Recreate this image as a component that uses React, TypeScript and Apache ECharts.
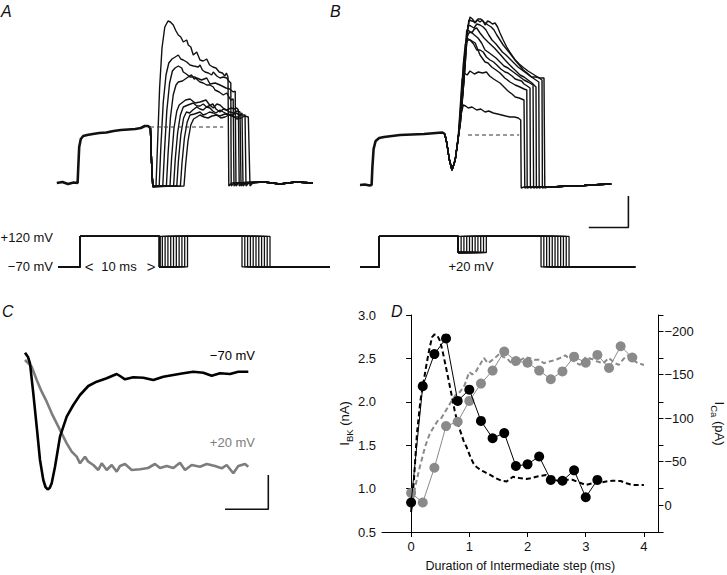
import React, { useEffect, useRef } from "react";
import * as echarts from "echarts";

const FONT = "'Liberation Sans', Arial, Helvetica, sans-serif";
const GRAY = "#8a8a8a";

// ---------- Panel A : currents (time ms, current in 0.1-unit steps) ----------
const aPlateau: number[][] = [[7.1,0],[7.8,0.1],[8.5,-0.1],[9.2,0.05],[9.7,0],[9.78,1.5],[9.9,3.6],[10.1,4.4],[10.4,4.7],[10.9,4.8],[11.6,4.9],[12.4,5.0],[13.3,5.05],[14.2,5.2],[15.1,5.3],[16,5.35],[16.9,5.4],[17.6,5.5],[18.1,5.7],[18.5,5.7],[18.8,5.5]];
const aDrop: number[][] = [[18.8,5.5],[18.95,2.0],[19.1,-0.35]];
const aTails: number[][][] = [
  [[19.5,-0.3],[19.7,4.0],[19.95,9.5],[20.25,13.5],[20.6,15.6],[21.0,16.2],[21.3,16.1],[21.66,15.8],[22.0,15.2],[22.29,14.8],[22.6,14.6],[22.91,14.1],[23.34,14.3],[23.54,13.8],[23.85,13.6],[24.16,12.8],[24.59,13.1],[25.0,12.3],[25.4,12.2],[25.84,12.4],[26.2,11.8],[26.6,11.6],[27.0,11.5],[27.4,11.1],[27.8,11.0],[28.1,10.7],[28.3,11.0],[28.5,10.6],[28.6,-0.3],[28.95,0]],
  [[19.9,-0.3],[20.1,3.5],[20.4,8.0],[20.75,10.8],[21.1,12.0],[21.5,12.4],[21.9,12.6],[22.29,12.8],[22.6,12.4],[22.91,12.3],[23.34,12.1],[23.75,11.8],[24.2,11.7],[24.79,11.6],[25.0,11.8],[25.3,11.3],[25.63,11.1],[26.05,11.0],[26.46,10.8],[26.66,11.1],[27.1,10.7],[27.5,10.5],[27.9,10.6],[28.34,10.5],[28.6,10.2],[28.85,10.0],[28.9,-0.3],[29.25,0]],
  [[20.35,-0.3],[20.55,3.0],[20.85,7.2],[21.2,10.0],[21.55,11.2],[21.88,11.5],[22.3,11.7],[22.71,11.5],[22.91,11.1],[23.3,10.9],[23.75,10.6],[24.38,10.6],[24.7,10.3],[25.0,10.1],[25.4,10.0],[25.84,9.8],[26.25,9.8],[26.66,9.6],[26.88,9.3],[27.4,9.1],[27.91,8.8],[28.34,9.0],[28.84,8.3],[29.15,8.4],[29.25,-0.3],[29.6,0]],
  [[20.8,-0.3],[21.0,2.8],[21.3,6.5],[21.65,8.8],[22.0,9.8],[22.29,10.1],[22.8,10.2],[23.34,10.5],[23.7,10.7],[23.96,10.8],[24.25,10.4],[24.59,10.5],[25.2,10.3],[25.84,10.5],[26.25,9.9],[26.9,10.0],[27.5,9.8],[28.25,9.5],[28.7,9.4],[29.16,9.1],[29.4,9.2],[29.5,-0.3],[29.85,0]],
  [[21.25,-0.3],[21.45,2.5],[21.75,5.5],[22.1,7.2],[22.4,7.8],[22.71,8.0],[23.2,8.3],[23.75,8.4],[24.4,8.0],[25.0,8.1],[25.75,8.3],[26.2,7.8],[26.66,7.5],[27.1,7.9],[27.5,7.8],[27.9,7.5],[28.34,7.3],[28.9,7.5],[29.3,7.4],[29.59,7.5],[29.8,7.3],[29.9,-0.3],[30.25,0]],
  [[21.7,-0.3],[21.9,2.3],[22.2,5.0],[22.55,6.8],[22.91,7.6],[23.5,7.8],[24.16,8.0],[24.6,7.7],[25.0,7.7],[25.4,7.9],[25.84,7.6],[26.6,7.9],[27.0,7.4],[27.5,7.1],[27.9,7.4],[28.25,7.3],[28.7,7.1],[29.16,7.0],[29.6,7.2],[30.0,7.1],[30.13,-0.3],[30.5,0]],
  [[22.1,-0.3],[22.3,2.2],[22.6,4.8],[22.95,6.5],[23.3,7.1],[23.7,7.0],[24.1,7.3],[24.59,7.6],[25.0,7.4],[25.4,7.3],[25.8,7.6],[26.25,7.5],[26.6,7.2],[27.0,7.0],[27.5,7.3],[27.91,7.1],[28.4,6.9],[29.0,6.8],[29.5,7.0],[30.0,6.8],[30.25,7.0],[30.38,-0.3],[30.75,0]],
  [[22.55,-0.3],[22.75,2.0],[23.05,4.5],[23.4,6.1],[23.75,6.8],[24.3,6.9],[25.0,7.1],[25.4,6.8],[25.75,6.9],[26.2,7.1],[26.66,7.0],[27.1,6.8],[27.5,6.7],[28.1,6.9],[28.75,6.8],[29.25,6.6],[29.75,6.6],[30.2,6.8],[30.63,6.8],[30.75,-0.3],[31.1,0]],
  [[23.0,-0.3],[23.2,1.8],[23.5,4.2],[23.85,5.8],[24.2,6.4],[24.6,6.6],[25.0,6.8],[25.5,6.6],[26.0,6.5],[26.5,6.7],[27.09,6.8],[27.6,6.5],[28.13,6.6],[28.6,6.8],[29.16,6.7],[29.6,6.4],[30.13,6.5],[30.6,6.7],[31.04,6.6],[31.25,-0.3],[31.6,0]],
];
const aEnd: number[][] = [[33,0.1],[35,-0.1],[37,0.1],[39.1,0]];
const aDashed: number[][] = [[18.75,5.6],[27.9,5.6]];

// ---------- Panel B ----------
const bPlateau: number[][] = [[45,0],[45.6,0.05],[46.2,-0.05],[46.45,0],[46.55,1.8],[46.7,3.6],[46.95,4.4],[47.4,4.7],[48,4.8],[49,4.9],[50,5.0],[51.5,5.05],[53,5.1],[54.5,5.2],[55.3,5.25],[55.6,5.1]];
const bDip: number[][] = [[55.6,5.1],[55.85,4.2],[56.15,2.6],[56.5,1.5]];
const bTails: number[][][] = [
  [[56.9,2.5],[57.25,4.5],[57.55,6.8],[57.91,8.0],[58.2,7.9],[58.54,7.7],[59.0,7.8],[59.59,7.5],[60.1,7.6],[60.63,7.3],[61.1,7.4],[61.66,7.2],[62.2,7.1],[62.71,7.0],[63.2,6.9],[63.75,6.8],[64.3,6.8],[64.79,6.7],[65.09,6.5],[65.15,-0.3],[65.5,-0.2]],
  [[56.9,2.5],[57.25,4.5],[57.5,7.5],[57.75,10.5],[58.0,11.2],[58.4,11.0],[58.75,11.4],[59.3,11.1],[59.8,11.3],[60.3,11.2],[60.8,11.3],[61.2,10.9],[61.7,10.6],[62.1,10.4],[62.5,10.2],[63.0,9.8],[63.5,9.4],[64.0,9.1],[64.4,8.8],[64.9,8.7],[65.5,8.5],[65.6,-0.3],[65.95,-0.2]],
  [[56.9,2.5],[57.3,4.8],[57.6,8.0],[57.9,12.0],[58.15,14.0],[58.34,14.7],[58.8,14.5],[59.4,14.2],[60.0,13.0],[60.63,12.3],[61.0,12.2],[61.46,11.8],[62.0,11.5],[62.5,11.2],[63.1,10.7],[63.75,10.3],[64.4,10.0],[65.0,9.8],[65.5,9.6],[65.85,9.5],[65.9,-0.3],[66.25,-0.2]],
  [[56.9,2.5],[57.35,5.2],[57.7,8.5],[58.0,12.5],[58.3,14.2],[58.5,14.5],[58.75,14.5],[59.2,14.1],[59.59,13.5],[60.0,13.5],[60.4,13.3],[60.8,12.8],[61.25,12.5],[61.7,12.3],[62.1,12.0],[62.6,11.6],[63.13,11.3],[63.5,11.2],[64.0,10.9],[64.4,10.6],[64.79,10.5],[65.2,10.4],[65.5,10.1],[65.9,9.9],[66.25,9.7],[66.3,-0.3],[66.65,-0.2]],
  [[56.9,2.5],[57.4,5.5],[57.8,9.0],[58.1,13.0],[58.4,14.8],[58.6,15.2],[58.9,15.3],[59.3,15.0],[59.75,14.7],[60.2,14.2],[60.63,13.5],[61.0,13.3],[61.5,13.0],[62.0,12.7],[62.5,12.3],[63.0,11.9],[63.5,11.7],[64.0,11.4],[64.5,11.1],[65.0,10.8],[65.5,10.5],[66.0,10.3],[66.63,10.0],[66.7,-0.3],[67.05,-0.2]],
  [[56.9,2.5],[57.45,5.8],[57.9,9.8],[58.2,14.0],[58.34,15.5],[58.65,15.4],[58.96,15.2],[59.3,15.6],[59.59,15.7],[60.0,15.2],[60.5,14.7],[61.0,14.3],[61.4,14.0],[61.8,13.7],[62.25,13.3],[62.7,12.9],[63.13,12.5],[63.6,12.1],[64.1,11.7],[64.5,11.4],[65.0,11.0],[65.5,10.8],[66.0,10.5],[66.5,10.2],[67.0,9.8],[67.05,-0.3],[67.4,-0.2]],
  [[56.9,2.5],[57.5,6.0],[58.0,10.5],[58.3,14.5],[58.5,16.0],[58.85,15.9],[59.25,15.7],[59.6,16.1],[60.0,16.0],[60.4,15.8],[60.75,15.5],[61.1,15.0],[61.5,14.5],[62.0,14.1],[62.4,13.7],[62.8,13.3],[63.25,13.0],[63.75,12.6],[64.25,12.2],[64.75,11.8],[65.25,11.5],[65.75,11.2],[66.25,10.9],[66.8,10.6],[67.35,10.3],[67.4,-0.3],[67.75,-0.2]],
  [[56.9,2.5],[57.55,6.2],[58.05,11.0],[58.4,15.0],[58.6,16.5],[59.0,16.4],[59.4,16.3],[59.75,16.6],[60.1,16.6],[60.5,16.3],[61.0,16.0],[61.4,15.8],[61.75,15.5],[62.1,15.0],[62.5,14.5],[62.9,14.0],[63.4,13.5],[63.9,13.0],[64.4,12.5],[64.9,12.1],[65.5,11.7],[66.0,11.4],[66.6,11.1],[67.2,10.8],[67.75,10.5],[67.8,-0.3],[68.15,-0.2]],
  [[56.9,2.5],[57.6,6.5],[58.1,11.5],[58.45,15.5],[58.75,16.8],[59.05,16.6],[59.38,16.2],[59.7,16.5],[60.0,16.3],[60.3,16.5],[60.63,16.0],[60.95,16.4],[61.25,16.3],[61.55,16.1],[61.88,16.2],[62.2,15.8],[62.5,15.2],[62.9,14.5],[63.34,13.8],[63.8,13.2],[64.38,12.5],[64.9,12.0],[65.41,11.5],[65.9,11.2],[66.46,10.8],[67.0,10.8],[67.5,10.7],[68.0,10.7],[68.1,-0.3],[68.45,-0.2]],
];
const bEnd: number[][] = [[69,-0.2],[71,-0.1],[73,-0.05],[75,0.05],[76.4,0.1]];
const bDashed: number[][] = [[58.5,5.0],[64.9,5.0]];
const abScaleBar: number[][] = [[73.6,-4.25],[78.55,-4.25],[78.55,-1.1]];

// ---------- Voltage protocols ----------
const protoDurations = [0, 0.35, 0.7, 1.05, 1.4, 1.75, 2.1, 2.45, 2.8, 3.15, 3.5];
const protoATimes = [7.25, 10.0, 19.94, 30.25, 41.9];
const protoALevels = [-70, 120, -70];
const protoBTimes = [45, 47.41, 57.29, 67.63, 79.4];
const protoBLevels = [-70, 120, 20];

// ---------- Panel C ----------
const cMinus70: number[][] = [[0.5,19.3],[0.56,15],[0.6,8.7],[0.666,-21.3],[0.734,-54.7],[0.8,-88],[0.866,-108],[0.91,-115],[0.954,-117.3],[0.994,-116],[1.034,-111.3],[1.1,-94.7],[1.2,-64.7],[1.334,-44.7],[1.466,-33],[1.6,-23],[1.766,-14],[1.934,-9.7],[2.134,-6.3],[2.334,-2],[2.4,-4],[2.5,-7.3],[2.666,-5.3],[2.866,-5.7],[3.066,-8],[3.266,-4.7],[3.466,-3],[3.666,-1.3],[3.866,0.3],[4.066,-0.7],[4.234,-3.7],[4.4,-1.3],[4.6,-2],[4.766,0.3],[4.966,0.3]];
const cPlus20: number[][] = [[0.5,12],[0.634,5.3],[0.734,-8],[0.834,-19.7],[0.934,-29.7],[1.034,-41.3],[1.134,-51.3],[1.234,-61.3],[1.334,-71.3],[1.434,-79.7],[1.534,-84.7],[1.6,-91.3],[1.7,-84.7],[1.766,-89.7],[1.866,-93],[1.966,-98],[2.034,-91.3],[2.134,-98],[2.234,-93],[2.334,-99.7],[2.4,-94],[2.5,-92],[2.634,-98],[2.8,-97.3],[2.96,-96],[3.1,-92],[3.2,-96],[3.334,-94],[3.466,-96],[3.6,-90.7],[3.7,-98],[3.834,-93],[4.0,-94.7],[4.134,-92],[4.3,-94],[4.434,-96.3],[4.534,-93],[4.666,-101.3],[4.766,-94],[4.9,-92],[4.966,-94.7]];
const cScaleBar: number[][] = [[4.5,-137.3],[5.366,-137.3],[5.366,-103]];

// ---------- Panel D ----------
const dDurations = [0,0.2,0.4,0.6,0.8,1.0,1.2,1.4,1.6,1.8,2.0,2.2,2.4,2.6,2.8,3.0,3.2,3.4,3.6,3.8];
const bkMinus70 = [0.84,2.18,2.55,2.73,2.01,2.14,1.78,1.58,1.64,1.26,1.28,1.37,1.10,1.09,1.21,0.90,1.10];
const bkPlus20 = [0.95,0.84,1.24,1.72,1.77,2.01,2.21,2.36,2.58,2.47,2.45,2.36,2.26,2.35,2.52,2.45,2.54,2.39,2.64,2.51];
const caMinus70: number[][] = [[0,8],[0.05,-30],[0.1,-82],[0.16,-120],[0.21,-140],[0.26,-160],[0.31,-178],[0.36,-193],[0.4,-196],[0.45,-195],[0.5,-188],[0.55,-174],[0.6,-158],[0.64,-145],[0.7,-125],[0.75,-108],[0.8,-94],[0.86,-82],[0.9,-74],[0.95,-67],[1.02,-55],[1.07,-48],[1.12,-44],[1.2,-40],[1.26,-38],[1.35,-35],[1.45,-31],[1.55,-28],[1.64,-27],[1.75,-32.5],[1.86,-31],[1.98,-30],[2.07,-31],[2.15,-32.5],[2.32,-34.5],[2.44,-30],[2.55,-27],[2.66,-29],[2.77,-29],[2.89,-26],[3.0,-23],[3.12,-25],[3.23,-25.6],[3.35,-27],[3.46,-28],[3.6,-27.6],[3.7,-25],[3.8,-23],[3.9,-23],[4.0,-23]];
const caPlus20: number[][] = [[0.01,4],[0.07,-21],[0.15,-44],[0.24,-67],[0.32,-82],[0.41,-92],[0.47,-98],[0.52,-100],[0.61,-110],[0.7,-120],[0.77,-127],[0.84,-130],[0.92,-138],[1.0,-153],[1.05,-150],[1.1,-152],[1.18,-161],[1.25,-169],[1.32,-163],[1.38,-166],[1.44,-169],[1.52,-174],[1.58,-170],[1.64,-169],[1.71,-164],[1.78,-161],[1.84,-166],[1.89,-167],[1.96,-170],[2.03,-169],[2.12,-167],[2.2,-167],[2.28,-163],[2.38,-165],[2.49,-167],[2.56,-169],[2.65,-172],[2.72,-168],[2.8,-165],[2.9,-161],[3.0,-170],[3.1,-168],[3.2,-165],[3.3,-163],[3.4,-169],[3.5,-163],[3.57,-161],[3.65,-168],[3.72,-172],[3.8,-167],[3.9,-163],[4.0,-161]];
const dXTicks = [0, 1, 2, 3, 4];
const dCaTicks = [-200, -150, -100, -50, 0];

function protocolLine(times: number[], levels: number[], d: number): number[][] {
  const [t0, t1, t2, t3, t4] = times;
  const [h, p, m] = levels;
  return [[t0,h],[t1,h],[t1,p],[t2,p],[t2,m],[t2+d,m],[t2+d,p],[t3+d,p],[t3+d,h],[t4,h]];
}

function line(idx: number, data: number[][], color: string, width: number, extra: any = {}) {
  return {
    type: "line", xAxisIndex: idx, yAxisIndex: idx, data, showSymbol: false, symbol: "none",
    lineStyle: { color, width }, silent: true, animation: false, z: 2, ...extra,
  };
}

function hiddenX(gridIndex: number, min: number, max: number) {
  return { type: "value", gridIndex, min, max, show: false };
}
function hiddenY(gridIndex: number, min: number, max: number) {
  return { type: "value", gridIndex, min, max, show: false };
}

function buildOption() {
  const series: any[] = [];
  // Panel A
  series.push(line(0, aPlateau, "#111", 2.6));
  aTails.forEach((t) => series.push(line(0, [...aDrop, ...t, ...aEnd], "#111", 1.4)));
  series.push(line(0, aDashed, "#333", 1, { lineStyle: { color: "#333", width: 1, type: [4, 3] } }));
  // Panel B
  series.push(line(1, bPlateau, "#111", 2.6));
  bTails.forEach((t) => series.push(line(1, [...bDip, ...t, ...bEnd], "#111", 1.4)));
  series.push(line(1, bDashed, "#333", 1, { lineStyle: { color: "#333", width: 1, type: [4, 3] } }));
  series.push(line(1, abScaleBar, "#111", 1.6));
  // Protocols
  protoDurations.forEach((d) => series.push(line(2, protocolLine(protoATimes, protoALevels, d), "#111", 1.3)));
  protoDurations.forEach((d) => series.push(line(3, protocolLine(protoBTimes, protoBLevels, d), "#111", 1.3)));
  // Panel C
  series.push(line(4, cPlus20, "#7d7d7d", 2.6));
  series.push(line(4, cMinus70, "#000", 2.6));
  series.push(line(4, cScaleBar, "#111", 1.6));
  // Panel D
  series.push({
    type: "line", xAxisIndex: 5, yAxisIndex: 6, data: caPlus20, showSymbol: false, symbol: "none",
    lineStyle: { color: GRAY, width: 2, type: [5, 3] }, silent: true, z: 2,
  });
  series.push({
    type: "line", xAxisIndex: 5, yAxisIndex: 6, data: caMinus70, showSymbol: false, symbol: "none",
    lineStyle: { color: "#000", width: 2, type: [5, 3] }, silent: true, z: 2,
  });
  series.push({
    type: "line", xAxisIndex: 5, yAxisIndex: 5,
    data: bkPlus20.map((v, i) => [dDurations[i], v]),
    symbol: "circle", symbolSize: 10, showSymbol: true,
    itemStyle: { color: GRAY }, lineStyle: { color: GRAY, width: 1 }, silent: true, z: 3,
  });
  series.push({
    type: "line", xAxisIndex: 5, yAxisIndex: 5,
    data: bkMinus70.map((v, i) => [dDurations[i], v]),
    symbol: "circle", symbolSize: 10, showSymbol: true,
    itemStyle: { color: "#000" }, lineStyle: { color: "#000", width: 1 }, silent: true, z: 4,
  });

  const axisCol = "#000";
  const labelStyle = { color: "#111", fontSize: 13, fontFamily: FONT };

  const txt = (text: string, x: number, y: number, opts: any = {}) => ({
    type: "text", x, y, silent: true,
    style: { text, fill: "#111", fontSize: 13, fontFamily: FONT, align: "left", verticalAlign: "middle", ...opts },
  });

  return {
    animation: false,
    backgroundColor: "#fff",
    grid: [
      { left: 40, top: 10, width: 288, height: 190 },   // A
      { left: 352, top: 10, width: 288, height: 230 },  // B
      { left: 40, top: 230, width: 288, height: 45 },   // protocol A
      { left: 352, top: 230, width: 288, height: 45 },  // protocol B
      { left: 0, top: 330, width: 300, height: 200 },   // C
      { left: 382, top: 315, width: 277, height: 217 }, // D
    ],
    xAxis: [
      hiddenX(0, 5, 41),
      hiddenX(1, 44, 80),
      hiddenX(2, 5, 41),
      hiddenX(3, 44, 80),
      hiddenX(4, 0, 6),
      {
        type: "value", gridIndex: 5, min: -0.5, max: 4.25,
        axisLine: { show: true, onZero: false, lineStyle: { color: axisCol, width: 1 } },
        axisTick: { show: true, length: 5, customValues: dXTicks, lineStyle: { color: axisCol } },
        axisLabel: { customValues: dXTicks, margin: 8, ...labelStyle },
        splitLine: { show: false },
        name: "Duration of Intermediate step (ms)", nameLocation: "middle", nameGap: 27,
        nameTextStyle: { color: "#111", fontSize: 12.5, fontFamily: FONT },
      },
    ],
    yAxis: [
      hiddenY(0, -1.7, 17.3),
      hiddenY(1, -5.5, 17.5),
      hiddenY(2, -120, 160),
      hiddenY(3, -120, 160),
      hiddenY(4, -158, 42),
      {
        type: "value", gridIndex: 5, min: 0.5, max: 3.0, interval: 0.5, position: "left",
        axisLine: { show: true, lineStyle: { color: axisCol, width: 1 } },
        axisTick: { show: true, length: 5, lineStyle: { color: axisCol } },
        axisLabel: { formatter: (v: number) => v.toFixed(1), margin: 6, ...labelStyle },
        splitLine: { show: false },
        name: "{a|I}{b|BK}{a| (nA)}", nameLocation: "middle", nameGap: 26, nameRotate: 90,
        nameTextStyle: {
          rich: {
            a: { fontSize: 13, fontFamily: FONT, color: "#111", lineHeight: 20, verticalAlign: "middle" },
            b: { fontSize: 9.5, fontFamily: FONT, color: "#111", lineHeight: 20, verticalAlign: "bottom" },
          },
        },
      },
      {
        type: "value", gridIndex: 5, min: -218.4, max: 31, inverse: true, position: "right",
        axisLine: { show: true, lineStyle: { color: axisCol, width: 1 } },
        axisTick: { show: true, length: 5, customValues: dCaTicks, lineStyle: { color: axisCol } },
        axisLabel: {
          customValues: dCaTicks, margin: 6, ...labelStyle,
          formatter: (v: number) => (Number(v) === 0 ? "0" : "\u2212" + Math.abs(Number(v))),
        },
        splitLine: { show: false },
        name: "{a|I}{b|Ca}{a| (pA)}", nameLocation: "middle", nameGap: 51, nameRotate: -90,
        nameTextStyle: {
          rich: {
            a: { fontSize: 13, fontFamily: FONT, color: "#111", lineHeight: 20, verticalAlign: "middle" },
            b: { fontSize: 9.5, fontFamily: FONT, color: "#111", lineHeight: 20, verticalAlign: "bottom" },
          },
        },
      },
      {
        type: "value", gridIndex: 5, min: 0.5, max: 3.0, interval: 0.5, position: "right",
        axisLine: { show: false },
        axisTick: { show: true, length: 5, lineStyle: { color: axisCol } },
        axisLabel: { show: false },
        splitLine: { show: false },
      },
    ],
    series,
    graphic: [
      txt("A", 1, 11, { fontSize: 16, fontStyle: "italic" }),
      txt("B", 330, 11, { fontSize: 16, fontStyle: "italic" }),
      txt("C", 2, 311, { fontSize: 16, fontStyle: "italic" }),
      txt("D", 391, 311, { fontSize: 16, fontStyle: "italic" }),
      txt("+120 mV", 53, 237, { align: "right" }),
      txt("\u221270 mV", 53, 266, { align: "right" }),
      txt("<", 89, 266, { align: "center", fontSize: 15 }),
      txt("10 ms", 119, 266, { align: "center" }),
      txt(">", 151, 266, { align: "center", fontSize: 15 }),
      txt("+20 mV", 471, 266, { align: "center" }),
      txt("\u221270 mV", 255, 355, { align: "right", fill: "#000" }),
      txt("+20 mV", 255, 442, { align: "right", fill: "#7d7d7d" }),
    ],
  };
}

export default function App() {
  const ref = useRef<HTMLDivElement>(null);
  useEffect(() => {
    if (!ref.current) return;
    const chart = echarts.init(ref.current, null, { renderer: "svg", width: 727, height: 575 });
    chart.setOption(buildOption() as any);
    return () => chart.dispose();
  }, []);
  return (
    <div
      ref={ref}
      style={{ position: "fixed", left: 0, top: 0, width: 727, height: 575, background: "#fff" }}
    />
  );
}
